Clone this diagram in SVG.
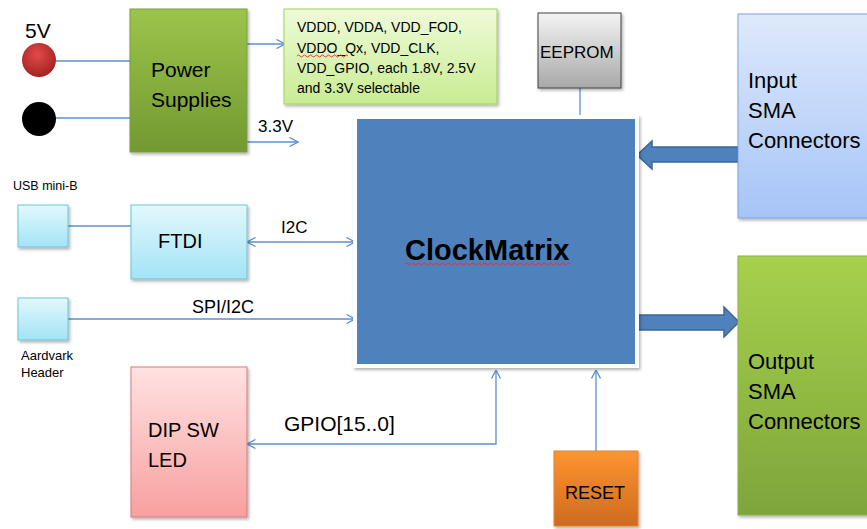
<svg xmlns="http://www.w3.org/2000/svg" width="867" height="529" viewBox="0 0 867 529">
<defs>
<linearGradient id="gPower" x1="0" y1="0" x2="0" y2="1"><stop offset="0" stop-color="#9cc44c"/><stop offset="1" stop-color="#72992f"/></linearGradient>
<linearGradient id="gLight" x1="0" y1="0" x2="0" y2="1"><stop offset="0" stop-color="#eefbd9"/><stop offset="1" stop-color="#c9ec92"/></linearGradient>
<linearGradient id="gGray" x1="0" y1="0" x2="0" y2="1"><stop offset="0" stop-color="#f4f4f4"/><stop offset="1" stop-color="#a8a8a8"/></linearGradient>
<linearGradient id="gIn" x1="0" y1="0" x2="0" y2="1"><stop offset="0" stop-color="#dee9fb"/><stop offset="1" stop-color="#a6c4f8"/></linearGradient>
<linearGradient id="gOut" x1="0" y1="0" x2="0" y2="1"><stop offset="0" stop-color="#a6d14d"/><stop offset="1" stop-color="#7ea53b"/></linearGradient>
<linearGradient id="gCyan" x1="0" y1="0" x2="0" y2="1"><stop offset="0" stop-color="#e2f8fd"/><stop offset="1" stop-color="#a3e3f6"/></linearGradient>
<linearGradient id="gPink" x1="0" y1="0" x2="0" y2="1"><stop offset="0" stop-color="#ffe2e2"/><stop offset="1" stop-color="#f7a09f"/></linearGradient>
<linearGradient id="gOrange" x1="0" y1="0" x2="0" y2="1"><stop offset="0" stop-color="#fd9530"/><stop offset="1" stop-color="#cf6a1f"/></linearGradient>
<radialGradient id="gRed" cx="0.45" cy="0.35" r="0.65"><stop offset="0" stop-color="#e24a4a"/><stop offset="1" stop-color="#a52222"/></radialGradient>
<filter id="sh" x="-10%" y="-10%" width="130%" height="130%"><feDropShadow dx="1.5" dy="2" stdDeviation="1.5" flood-color="#000" flood-opacity="0.3"/></filter>
<marker id="ah" viewBox="0 0 10 10" refX="9.5" refY="5" markerWidth="10" markerHeight="10" markerUnits="userSpaceOnUse" orient="auto-start-reverse"><path d="M1,0.5 L9.5,5 L1,9.5" fill="none" stroke="#5b8fd0" stroke-width="1.3"/></marker>
<style>
.t{font-family:"Liberation Sans",Arial,sans-serif;fill:#000}
.ln{fill:none;stroke:#5b8fd0;stroke-width:1.3}
.big{fill:#4f81bd;stroke:#3a6799;stroke-width:1.5}
.sq{fill:none;stroke:#e03030;stroke-width:0.9}
</style>
</defs>

<g id="conn">
<line class="ln" x1="56" y1="61" x2="130" y2="61"/>
<line class="ln" x1="56" y1="118" x2="130" y2="118"/>
<line class="ln" x1="247" y1="44" x2="285" y2="44" marker-end="url(#ah)"/>
<line class="ln" x1="247" y1="142" x2="298" y2="142" marker-end="url(#ah)"/>
<line class="ln" x1="580" y1="88" x2="580" y2="119"/>
<line class="ln" x1="68" y1="226" x2="131" y2="226"/>
<line class="ln" x1="247" y1="242" x2="355" y2="242" marker-start="url(#ah)" marker-end="url(#ah)"/>
<line class="ln" x1="68" y1="319" x2="355" y2="319" marker-end="url(#ah)"/>
<path class="ln" d="M496,370 V444 H247" marker-start="url(#ah)" marker-end="url(#ah)"/>
<line class="ln" x1="596" y1="451" x2="596" y2="370" marker-end="url(#ah)"/>
<polygon class="big" points="637,155 652,141 652,147 738,147 738,162 652,162 652,169"/>
<polygon class="big" points="636,315 724,315 724,307 739,322 724,337 724,330 636,330"/>
<text class="t" x="258" y="132" font-size="17">3.3V</text>
<text class="t" x="281" y="233" font-size="17">I2C</text>
<text class="t" x="192" y="313" font-size="18">SPI/I2C</text>
<text class="t" x="284" y="431" font-size="21">GPIO[15..0]</text>
</g>

<g id="v5">
<circle cx="39" cy="60" r="17" fill="url(#gRed)"/>
<text class="t" x="25" y="38" font-size="21">5V</text>
</g>
<g id="gnd"><circle cx="39" cy="119" r="17" fill="#000"/></g>

<g id="power">
<rect x="130" y="9" width="117" height="143" fill="url(#gPower)" stroke="#7b9e3c" filter="url(#sh)"/>
<text class="t" x="151" y="77" font-size="21">Power</text>
<text class="t" x="151" y="107" font-size="21">Supplies</text>
</g>

<g id="rails">
<rect x="284" y="9" width="213" height="95" fill="url(#gLight)" stroke="#a3cf60" filter="url(#sh)"/>
<text class="t" x="297" y="32" font-size="14">VDDD, VDDA, VDD_FOD,</text>
<text class="t" x="297" y="53" font-size="14">VDDO_Qx, VDD_CLK,</text>
<text class="t" x="297" y="73" font-size="14">VDD_GPIO, each 1.8V, 2.5V</text>
<text class="t" x="297" y="93" font-size="14">and 3.3V selectable</text>
<path class="sq" d="M297,56 q1.5,-2 3,0 t3,0 t3,0 t3,0 t3,0 t3,0 t3,0 t3,0 t3,0 t3,0 t3,0 t3,0 t3,0 t3,0 t3,0 t3,0 t3,0"/>
</g>

<g id="eeprom">
<rect x="538" y="13" width="83" height="75" fill="url(#gGray)" stroke="#404040" filter="url(#sh)"/>
<text class="t" x="540" y="58" font-size="17">EEPROM</text>
</g>

<g id="clockmatrix">
<rect x="355" y="117" width="282" height="249" fill="#4f81bd" stroke="#ffffff" stroke-width="4" filter="url(#sh)"/>
<text class="t" x="405" y="260" font-size="29" font-weight="bold">ClockMatrix</text>
<path class="sq" d="M405,264 q1.5,-2 3,0 t3,0 t3,0 t3,0 t3,0 t3,0 t3,0 t3,0 t3,0 t3,0 t3,0 t3,0 t3,0 t3,0 t3,0 t3,0 t3,0 t3,0 t3,0 t3,0 t3,0 t3,0 t3,0 t3,0 t3,0 t3,0 t3,0 t3,0 t3,0 t3,0 t3,0 t3,0 t3,0 t3,0 t3,0 t3,0 t3,0 t3,0 t3,0 t3,0 t3,0 t3,0 t3,0 t3,0 t3,0 t3,0 t3,0 t3,0 t3,0 t3,0 t3,0 t3,0 t3,0 t3,0 t3,0"/>
</g>

<g id="input">
<rect x="738" y="14" width="140" height="204" fill="url(#gIn)" stroke="#7fa2d8" filter="url(#sh)"/>
<text class="t" x="748" y="88" font-size="22">Input</text>
<text class="t" x="748" y="118" font-size="22">SMA</text>
<text class="t" x="748" y="148" font-size="22">Connectors</text>
</g>

<g id="output">
<rect x="738" y="256" width="140" height="259" fill="url(#gOut)" stroke="#8cb145" filter="url(#sh)"/>
<text class="t" x="748" y="369" font-size="22">Output</text>
<text class="t" x="748" y="399" font-size="22">SMA</text>
<text class="t" x="748" y="429" font-size="22">Connectors</text>
</g>

<g id="usb">
<text class="t" x="13" y="190" font-size="12.5">USB mini-B</text>
<rect x="18" y="205" width="50" height="42" fill="url(#gCyan)" stroke="#6cc3da" filter="url(#sh)"/>
</g>

<g id="ftdi">
<rect x="131" y="205" width="116" height="74" fill="url(#gCyan)" stroke="#6cc3da" filter="url(#sh)"/>
<text class="t" x="158" y="248" font-size="20">FTDI</text>
</g>

<g id="aardvark">
<rect x="18" y="298" width="50" height="42" fill="url(#gCyan)" stroke="#6cc3da" filter="url(#sh)"/>
<text class="t" x="21" y="360" font-size="13">Aardvark</text>
<text class="t" x="21" y="377" font-size="13">Header</text>
</g>

<g id="dip">
<rect x="131" y="367" width="116" height="150" fill="url(#gPink)" stroke="#d87b7b" filter="url(#sh)"/>
<text class="t" x="148" y="437" font-size="20">DIP SW</text>
<text class="t" x="148" y="467" font-size="20">LED</text>
</g>

<g id="reset">
<rect x="554" y="451" width="84" height="75" fill="url(#gOrange)" stroke="#e08530" filter="url(#sh)"/>
<text class="t" x="565" y="499" font-size="18">RESET</text>
</g>
</svg>
